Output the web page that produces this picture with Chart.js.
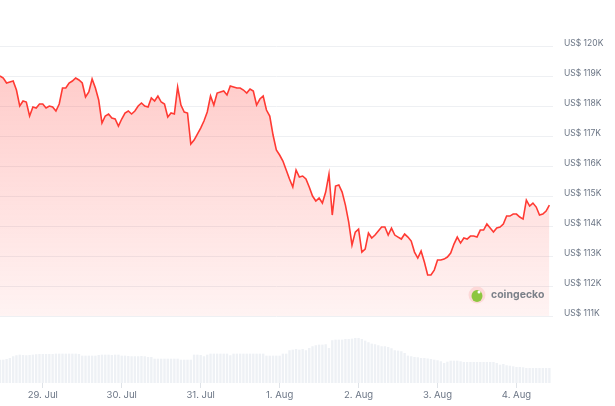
<!DOCTYPE html>
<html>
<head>
<meta charset="utf-8">
<script src="https://cdn.jsdelivr.net/npm/chart.js@4.4.1/dist/chart.umd.min.js"></script>
<style>
  html, body { margin: 0; padding: 0; background: #fff; }
  #wrap { width: 615px; height: 406px; }
</style>
</head>
<body>
<div id="wrap"><canvas id="chart"></canvas></div>
<script>
// hourly series, first point = 28 Jul 11:00
const dayTicks = [13, 37, 61, 85, 109, 133, 157];
const dayLabels = ['29. Jul', '30. Jul', '31. Jul', '1. Aug', '2. Aug', '3. Aug', '4. Aug'];
const priceTicks = [111000, 112000, 113000, 114000, 115000, 116000, 117000, 118000, 119000, 120000];

const prices = [
  119000, 118933, 118767, 118800, 118833, 118533, 118000, 118167, 118133, 117667,
  117967, 117933, 118067, 118067, 117933, 118000, 117967, 117833, 118067, 118600,
  118600, 118767, 118833, 118933, 118867, 118767, 118300, 118467, 118900, 118600,
  118200, 117433, 117667, 117733, 117600, 117567, 117333, 117567, 117767, 117833,
  117733, 117833, 118000, 118100, 118000, 117967, 118267, 118167, 118333, 118133,
  118067, 117633, 117767, 117733, 118633, 118033, 117800, 117767, 116733, 116867,
  117067, 117267, 117500, 117800, 118333, 118033, 118433, 118467, 118500, 118367,
  118667, 118633, 118600, 118600, 118533, 118433, 118567, 118500, 118033, 118233,
  118333, 117867, 117667, 117033, 116533, 116367, 116167, 115867, 115567, 115300,
  115867, 115633, 115667, 115567, 115300, 115000, 114833, 114933, 114767, 115133,
  115733, 114367, 115333, 115367, 115133, 114700, 114133, 113367, 113800, 113900,
  113133, 113233, 113767, 113600, 113700, 113833, 113967, 113967, 113700, 113933,
  113700, 113633, 113567, 113733, 113633, 113500, 113133, 112933, 113167, 112800,
  112367, 112367, 112533, 112867, 112867, 112900, 112967, 113100, 113400, 113633,
  113433, 113600, 113567, 113667, 113667, 113633, 113867, 113867, 114067, 113933,
  113800, 113933, 113967, 114067, 114333, 114333, 114400, 114400, 114300, 114233,
  114867, 114667, 114767, 114633, 114367, 114400, 114500, 114700
];

// volume, billions USD
const volumes = [
  46.6, 46.6, 48, 50, 53.4, 55.4, 56.6, 56, 55.4, 56,
  56.6, 57.4, 58, 58, 58, 58, 58, 58.6, 58.6, 58.6,
  58.6, 58.6, 58.6, 58.6, 58, 54.6, 54.6, 54.6, 54.6, 54.6,
  56, 56.6, 56.6, 56.6, 56, 56.6, 56.6, 54.6, 54.6, 54,
  53.4, 53.4, 53.4, 54, 53.4, 52, 52, 48.6, 48.6, 48.6,
  48.6, 48.6, 48.6, 48.6, 48.6, 46.6, 46.6, 46.6, 46.6, 56.6,
  56.6, 56, 53.4, 56.6, 58.6, 58.6, 58.6, 58.6, 58.6, 58.6,
  55.4, 58.6, 58.6, 58.6, 58.6, 58.6, 58.6, 58.6, 58.6, 58.6,
  58.6, 54.6, 54.6, 54.6, 54.6, 54.6, 58.6, 58.6, 65.4, 66.6,
  68, 66.6, 68, 65.4, 70, 73.4, 75.4, 76.6, 76.6, 77.4,
  70, 85.4, 86.6, 86.6, 86.6, 88, 88, 88.6, 90, 90,
  88, 84.6, 81.4, 78.6, 77.4, 75.4, 73.4, 73.4, 72, 69.4,
  65.4, 64.6, 63.4, 60, 54.6, 53.4, 52, 51.4, 50, 50,
  49, 48, 46.6, 45.4, 43.4, 40, 42.6, 44.6, 44.6, 44.6,
  43.4, 42, 42, 42, 42, 42, 42, 42, 42, 42,
  42, 40, 36.6, 38, 35.4, 34.6, 33.4, 32, 32, 31.4,
  30, 30, 30, 30, 30, 30, 30, 30
];

const RED = '#ff3a33';

const watermark = {
  id: 'watermark',
  afterDatasetsDraw(chart) {
    const ctx = chart.ctx;
    ctx.save();
    ctx.fillStyle = '#fdd9d8';
    ctx.beginPath(); ctx.arc(477, 295, 8.5, 0, Math.PI * 2); ctx.fill();
    ctx.fillStyle = '#8dc63f';
    ctx.beginPath(); ctx.ellipse(477, 296, 5.5, 6, 0, 0, Math.PI * 2); ctx.fill();
    ctx.fillStyle = '#fff';
    ctx.beginPath(); ctx.arc(479, 292, 1.5, 0, Math.PI * 2); ctx.fill();
    ctx.fillStyle = '#7b8089';
    ctx.font = 'bold 10.5px Inter';
    ctx.textBaseline = 'middle';
    ctx.fillText('coingecko', 491, 295);
    ctx.restore();
  }
};

const ctx = document.getElementById('chart').getContext('2d');
new Chart(ctx, {
  type: 'bar',
  data: {
    datasets: [
      {
        type: 'line',
        label: 'Price',
        data: prices.map((p, i) => ({ x: i, y: p })),
        yAxisID: 'y',
        borderColor: RED,
        borderWidth: 1.6,
        pointRadius: 0,
        tension: 0,
        fill: { value: 111000 },
        backgroundColor: (c) => {
          const a = c.chart.chartArea;
          if (!a) return 'rgba(255,58,51,0.15)';
          const y = c.chart.scales.y;
          const g = c.chart.ctx.createLinearGradient(0, y.getPixelForValue(119000), 0, y.getPixelForValue(111000));
          g.addColorStop(0, 'rgba(255,58,51,0.26)');
          g.addColorStop(1, 'rgba(255,58,51,0.06)');
          return g;
        },
        order: 0
      },
      {
        type: 'bar',
        label: 'Volume',
        data: volumes.map((v, i) => ({ x: i, y: v })),
        yAxisID: 'yv',
        backgroundColor: '#eef1f5',
        barPercentage: 0.72,
        categoryPercentage: 1,
        order: 1
      }
    ]
  },
  options: {
    responsive: true,
    maintainAspectRatio: false,
    animation: false,
    layout: { padding: { top: 31, left: 0, right: 0, bottom: 0 } },
    plugins: { legend: { display: false }, tooltip: { enabled: false } },
    scales: {
      x: {
        type: 'linear',
        offset: false,
        min: 0,
        max: 168.1,
        afterBuildTicks: (s) => { s.ticks = dayTicks.map(v => ({ value: v })); },
        afterFit: (s) => { s.height = 23; },
        ticks: {
          autoSkip: false,
          maxRotation: 0,
          padding: 1,
          color: '#6b7585',
          font: { family: 'Inter', size: 9.5 },
          callback: (v, i) => dayLabels[i]
        },
        grid: { offset: false, drawOnChartArea: false, drawTicks: true, tickLength: 5, color: '#dfe3e8' },
        border: { display: false }
      },
      y: {
        position: 'right',
        min: 108770,
        max: 120500,
        afterBuildTicks: (s) => { s.ticks = priceTicks.map(v => ({ value: v })); },
        afterFit: (s) => { s.width = 62; },
        ticks: {
          padding: 11,
          labelOffset: -3,
          color: '#6b7585',
          font: { family: 'Inter', size: 8.5 },
          callback: (v) => 'US$ ' + (v / 1000) + 'K'
        },
        grid: { color: '#eef0f3', drawTicks: false },
        border: { display: false }
      },
      yv: {
        position: 'left',
        display: false,
        min: 0,
        max: Math.max(...volumes) / 0.128
      }
    }
  },
  plugins: [watermark]
});
</script>
</body>
</html>
